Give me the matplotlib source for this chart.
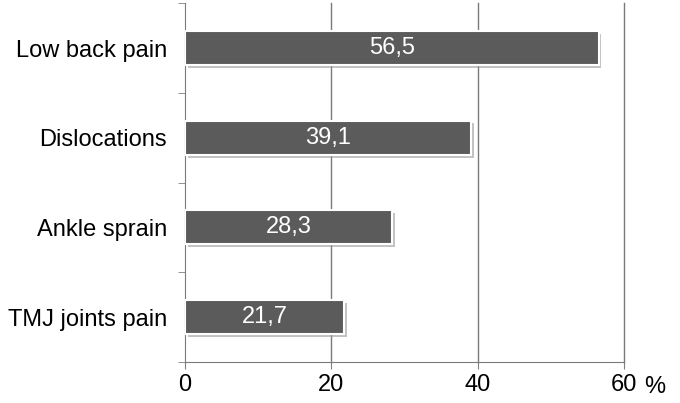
#!/usr/bin/env python3

import matplotlib
matplotlib.use("Agg")
import matplotlib.pyplot as plt
import matplotlib.patheffects as pe

categories = ["Low back pain", "Dislocations", "Ankle sprain", "TMJ joints pain"]
values = [56.5, 39.1, 28.3, 21.7]
xticks = [0, 20, 40, 60]

plt.rcParams['font.family'] = ['Liberation Sans', 'DejaVu Sans']

fig = plt.figure(figsize=(6.8, 4.03), dpi=100)
ax = fig.add_axes([0.272, 0.102, 0.646, 0.89])

ypos = list(range(len(categories)))[::-1]
bars = ax.barh(ypos, values, height=0.38, color="#5b5b5b", edgecolor="white",
               linewidth=1.5, zorder=3)
for bar in bars:
    bar.set_path_effects([pe.SimplePatchShadow(offset=(2, -2), shadow_rgbFace="#9a9a9a", alpha=0.6),
                          pe.Normal()])

for y, v in zip(ypos, values):
    ax.text(v / 2, y, f"{v:.1f}".replace(".", ","), ha="center", va="center",
            color="white", fontsize=17, zorder=4)

ax.set_xlim(0, 60)
ax.set_ylim(-0.5, len(categories) - 0.5)
ax.set_xticks(xticks)
ax.set_xticklabels([str(t) for t in xticks], fontsize=17)
ax.set_yticks(ypos)
ax.set_yticklabels(categories, fontsize=17)
ax.tick_params(axis="y", length=0, pad=13)
ax.set_yticks([-0.5, 0.5, 1.5, 2.5, 3.5], minor=True)
ax.tick_params(axis="y", which="minor", length=5, color="#808080")
ax.tick_params(axis="x", length=5, color="#808080", pad=4)

for t in xticks[1:]:
    ax.axvline(t, color="#7a7a7a", linewidth=1, zorder=0, clip_on=False)
for s in ["top", "right"]:
    ax.spines[s].set_visible(False)
for s in ["left", "bottom"]:
    ax.spines[s].set_color("#7a7a7a")

ax.text(1.045, -0.04, "%", transform=ax.transAxes, fontsize=17, ha="left", va="top")

fig.savefig("out.png", dpi=100)
